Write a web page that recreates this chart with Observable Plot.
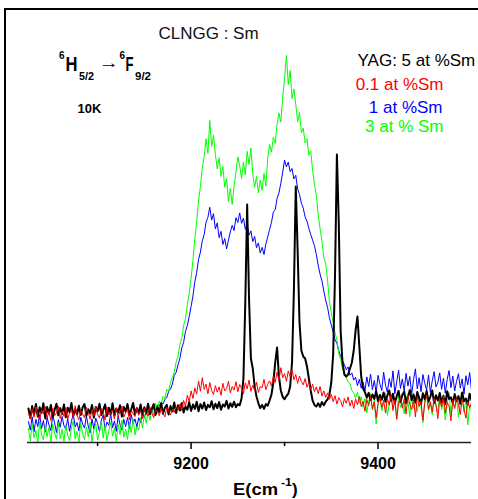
<!DOCTYPE html>
<html>
<head>
<meta charset="utf-8">
<script src="https://cdn.jsdelivr.net/npm/d3@7"></script>
<script src="https://cdn.jsdelivr.net/npm/@observablehq/plot@0.6"></script>
<style>
  html, body { margin: 0; padding: 0; background: #fff; }
  #wrap { position: relative; width: 478px; height: 499px; overflow: hidden; }
  #border { position: absolute; left: 4px; top: 8px; width: 480px; height: 500px;
            border-top: 2px solid #000; border-left: 2px solid #000; pointer-events: none; }
  svg g[aria-label="x-axis tick label"] { font-weight: bold; }
</style>
</head>
<body>
<div id="wrap"><div id="border"></div></div>
<script>
// ---- data (E in cm^-1, intensity in arbitrary units) ----
const energy = [
9026,9028,9030,9032,9034,9036,9038,9040,9042,9044,
9046,9048,9050,9052,9054,9056,9058,9060,9062,9064,
9066,9068,9070,9072,9074,9076,9078,9080,9082,9084,
9086,9088,9090,9092,9094,9096,9098,9100,9102,9104,
9106,9108,9110,9112,9114,9116,9118,9120,9122,9124,
9126,9128,9130,9132,9134,9136,9138,9140,9142,9144,
9146,9148,9150,9152,9154,9156,9158,9160,9162,9164,
9166,9168,9170,9172,9174,9176,9178,9180,9182,9184,
9186,9188,9190,9192,9194,9196,9198,9200,9202,9204,
9206,9208,9210,9212,9214,9216,9218,9220,9222,9224,
9226,9228,9230,9232,9234,9236,9238,9240,9242,9244,
9246,9248,9250,9252,9254,9256,9258,9260,9262,9264,
9266,9268,9270,9272,9274,9276,9278,9280,9282,9284,
9286,9288,9290,9292,9294,9296,9298,9300,9302,9304,
9306,9308,9310,9312,9314,9316,9318,9320,9322,9324,
9326,9328,9330,9332,9334,9336,9338,9340,9342,9344,
9346,9348,9350,9352,9354,9356,9358,9360,9362,9364,
9366,9368,9370,9372,9374,9376,9378,9380,9382,9384,
9386,9388,9390,9392,9394,9396,9398,9400,9402,9404,
9406,9408,9410,9412,9414,9416,9418,9420,9422,9424,
9426,9428,9430,9432,9434,9436,9438,9440,9442,9444,
9446,9448,9450,9452,9454,9456,9458,9460,9462,9464,
9466,9468,9470,9472,9474,9476,9478,9480,9482,9484,
9486,9488,9490,9492,9494,9496,9498,9500];

// YAG: 5 at %Sm (black)
const yag5 = [
8.5,6.2,9.1,7.0,9.6,6.5,8.8,7.4,9.8,6.0,
8.9,7.2,9.4,6.4,8.2,9.7,6.8,8.6,7.1,9.5,
6.3,8.7,7.6,9.9,6.6,8.4,7.0,9.2,6.9,8.8,
9.6,6.7,8.3,7.3,9.4,6.2,8.9,7.8,9.7,6.9,
8.1,9.5,6.6,8.7,7.2,9.8,6.8,8.5,7.5,9.3,
6.5,8.9,7.7,9.6,6.9,8.3,9.9,7.0,8.6,7.4,
9.5,6.8,8.8,7.3,9.7,7.1,8.4,9.6,6.9,8.9,
7.6,9.8,7.2,8.7,9.4,7.0,9.1,7.8,10.0,7.4,
9.3,8.0,9.9,7.5,9.0,8.2,10.1,7.9,9.5,8.4,
10.2,7.8,9.6,8.5,10.0,8.1,9.4,8.8,10.3,8.3,
9.7,8.6,10.1,8.2,9.5,9.0,10.4,8.5,9.8,8.9,
10.2,8.8,9.6,9.3,11,16,35,59.5,36,21,
18.5,14,11.5,9.8,8.6,9.4,8.4,9.6,9.2,10.5,
12,15,20,23.75,16.5,13,11.4,10.8,11.6,12.2,
14,20,38,64,48,30,23,21.5,21,19,
16,13,10.5,9.4,9.0,9.8,8.9,10.1,9.3,10.2,
10.8,12,15,22,42,72,55,28,20,17,
16.5,17,18.5,20,23,28,31.5,24,16.5,13.5,
12.6,11.2,12.4,10.6,12.0,10.9,12.8,10.3,11.9,10.7,
12.5,10.2,11.8,13.0,10.4,12.2,9.8,11.6,12.9,10.1,
11.9,12.7,9.9,11.4,13.1,10.6,12.0,10.0,12.6,11.1,
9.7,12.3,10.8,12.9,10.2,11.5,13.0,9.9,11.8,10.5,
12.4,10.0,11.7,9.6,12.8,10.9,11.3,9.8,12.1,10.4,
11.6,9.7,12.5,10.3,11.0,9.5,12.2,10.6];

// 0.1 at %Sm (red)
const sm01 = [
7.5,5.8,8.4,6.3,8.9,6.9,5.6,8.1,7.2,9.0,
6.1,7.8,5.5,8.6,6.7,7.4,9.1,6.0,7.9,6.5,
8.7,5.9,7.3,8.2,6.4,9.2,6.8,5.7,8.0,7.1,
6.2,8.8,7.6,5.8,8.3,6.6,9.0,7.0,6.1,8.5,
7.7,5.6,8.9,6.9,7.4,8.1,5.9,8.6,6.4,7.8,
9.1,6.3,7.5,8.4,5.7,8.0,7.2,6.5,8.8,6.8,
7.9,6.0,8.5,7.1,6.6,8.9,7.4,6.2,8.2,7.6,
6.7,8.6,7.3,6.4,8.8,7.8,6.9,8.3,7.5,9.0,
8.2,9.6,8.0,10.5,9.1,11.8,10.2,12.9,11.0,13.6,
12.1,15.4,12.8,16.2,13.3,14.6,12.2,15.0,13.0,12.0,
14.2,12.6,13.9,11.8,14.8,12.9,13.5,15.3,12.4,14.0,
13.1,15.2,12.7,14.5,13.6,12.2,14.9,13.4,15.6,12.8,
14.3,13.0,15.1,12.5,14.0,13.7,15.8,13.2,14.6,15.4,
14.1,16.5,15.0,17.6,15.5,18.7,16.2,17.2,15.3,17.9,
16.4,18.2,15.7,17.0,14.8,16.6,15.2,14.4,16.0,13.8,
15.1,13.3,14.6,12.7,13.9,12.2,14.0,11.6,12.9,11.3,
12.4,10.8,12.0,10.2,11.7,9.6,11.2,10.5,8.9,11.0,
9.8,11.4,9.1,10.6,8.5,10.9,9.4,11.5,9.0,10.3,
7.8,10.8,9.2,11.6,8.4,10.1,6.2,9.7,11.2,8.8,
10.5,7.4,11.0,9.3,12.1,8.0,10.6,5.8,9.9,11.3,
8.6,10.9,7.1,11.8,9.5,8.2,10.7,6.4,11.5,9.0,
10.4,5.5,9.8,11.9,8.3,10.2,7.6,11.1,9.4,6.0,
10.8,8.9,11.7,7.3,10.0,9.1,5.4,10.6,8.5,11.2,
9.6,7.0,10.9,8.2,6.1,10.3,8.7,9.9];

// 1 at %Sm (blue)
const sm1 = [
5.2,3.1,6.4,2.7,5.8,4.0,7.0,3.5,5.5,2.6,
6.2,4.4,3.0,6.8,4.9,2.5,5.7,3.8,6.5,4.2,
3.3,6.0,2.8,5.3,7.1,3.9,5.0,2.9,6.3,4.6,
3.6,6.7,4.1,2.4,5.9,3.4,6.1,4.8,2.7,5.6,
6.9,3.2,5.1,4.3,7.2,3.7,5.4,2.8,6.6,4.5,
3.1,5.8,4.0,6.3,3.5,7.0,4.7,5.9,3.9,6.2,
5.0,7.3,6.1,8.0,6.6,8.6,7.4,9.0,7.9,9.4,
9.2,10.0,9.6,10.8,11.2,12.8,13.4,14.6,16.8,17.5,
19.4,21.0,23.6,25.0,27.8,29.2,31.5,34.0,36.6,40.2,
42.5,45.8,47.6,50.4,52.0,55.1,56.3,58.8,55.6,57.2,
53.4,54.9,51.2,52.8,49.5,51.0,48.4,50.6,52.7,54.3,
53.0,56.2,55.0,57.4,54.8,56.1,53.3,54.6,51.8,52.9,
50.2,51.5,48.7,49.9,47.4,48.8,47.0,49.6,51.4,53.3,
55.0,57.6,58.2,61.0,62.4,64.8,67.5,70.6,68.9,70.1,
67.7,68.5,65.9,66.8,63.4,62.0,59.8,58.6,56.4,55.3,
53.5,52.0,50.6,49.2,47.0,44.3,42.1,40.4,37.9,35.6,
33.8,31.2,29.4,27.6,25.7,24.8,22.9,21.6,20.4,19.5,
18.2,18.9,16.8,17.4,15.6,16.3,14.2,15.8,13.6,15.1,
12.9,16.4,14.0,17.1,13.2,15.5,12.4,16.8,14.6,13.0,
17.6,14.3,12.6,16.0,13.8,17.9,12.2,15.2,18.1,13.5,
15.9,12.8,17.3,14.1,16.5,12.0,15.7,18.4,13.4,16.2,
12.7,17.0,14.8,13.1,16.9,12.5,15.4,17.7,13.9,15.0,
17.4,13.3,16.1,12.3,15.8,18.0,13.7,16.6,12.9,15.3,
17.2,13.6,15.9,12.1,16.7,14.4,17.5,13.0];

// 3 at % Sm (green)
const sm3 = [
3.5,0.4,4.8,1.2,3.0,0.0,5.2,2.1,0.6,4.1,
1.5,3.8,0.2,4.6,2.4,0.8,5.0,1.0,3.3,0.3,
4.4,1.8,0.5,3.6,5.4,0.9,2.8,0.1,4.9,2.2,
0.7,3.9,1.4,5.1,0.2,3.2,4.7,0.6,2.6,5.3,
1.1,4.3,0.4,2.9,5.0,1.6,3.7,0.3,4.5,2.0,
5.6,1.3,3.4,0.8,4.8,2.5,5.9,1.9,4.0,3.1,
6.2,3.6,7.0,4.8,7.9,5.5,8.6,6.8,9.8,8.0,
10.4,9.2,11.6,11.0,13.3,12.8,15.0,16.2,17.6,20.1,
21.5,24.6,26.0,29.2,31.0,34.5,37.3,41.0,45.6,51.0,
55.2,60.4,64.0,68.8,71.5,75.9,72.3,80.5,74.0,76.8,
72.0,68.4,71.2,66.5,69.0,63.8,66.0,60.2,63.5,59.5,
64.2,67.6,71.4,69.2,66.0,70.1,66.9,72.8,69.5,73.6,
67.2,63.8,66.5,62.4,65.6,63.0,67.3,64.1,71.0,74.5,
72.6,76.3,74.8,79.5,82.4,80.1,86.2,91.0,96.8,89.5,
93.0,86.0,88.4,84.6,80.2,82.5,77.4,78.6,74.9,76.0,
71.8,72.9,68.0,64.6,61.8,57.0,53.4,50.5,46.2,44.8,
40.6,35.2,32.4,30.0,27.5,25.6,22.3,20.8,18.4,17.5,
16.1,15.2,14.8,13.0,12.4,11.1,12.6,9.8,11.5,8.9,
11.0,7.4,10.3,12.2,8.1,10.8,4.6,9.5,11.7,7.9,
10.1,12.4,6.8,9.6,11.3,8.4,10.9,5.9,12.0,8.8,
9.9,7.2,11.6,10.2,6.5,12.3,8.6,10.5,7.7,11.1,
9.0,4.9,10.7,12.1,8.0,10.0,6.9,11.4,9.3,7.5,
11.8,8.3,10.4,5.6,9.7,12.5,7.0,10.1,8.7,11.2,
6.3,9.8,11.9,7.6,10.6,4.4,9.2,8.0];

const seriesNames = ["YAG: 5 at %Sm", "0.1 at %Sm", "1 at %Sm", "3 at % Sm"];
const seriesColors = ["#000000", "#ff0000", "#0000ff", "#00ff00"];
const majorTicks = [9200, 9400];
const minorTicks = [9100, 9300];
const titleText = "CLNGG : Sm";
const tempText = "10K";
const transitionParts = ["6", "H", "5/2", "\u2192", "6", "F", "9/2"];
const axisLabelParts = ["E(cm", "-1", ")"];

const rows = arr => energy.map((e, i) => ({e, v: arr[i]})).filter(d => d.v != null);

const lineOf = (arr, color, w) => Plot.line(rows(arr), {x: "e", y: "v", stroke: color, strokeWidth: w, clip: true});

const txt = (s, o) => Plot.text([s], {text: d => d, frameAnchor: "top-left", ...o});

const chart = Plot.plot({
  width: 478, height: 499,
  marginLeft: 27, marginRight: 7, marginTop: 42, marginBottom: 57,
  style: {fontFamily: "'Liberation Sans', Arial, sans-serif", background: "transparent", color: "#000", overflow: "visible"},
  x: {domain: [9025, 9500], label: null},
  y: {domain: [0, 100], axis: null},
  marks: [
    lineOf(sm1, seriesColors[2], 1),
    lineOf(sm3, seriesColors[3], 1),
    lineOf(yag5, seriesColors[0], 2),
    lineOf(sm01, seriesColors[1], 1),
    Plot.ruleY([0], {stroke: "#222", strokeWidth: 1.5}),
    Plot.axisX({ticks: minorTicks, tickSize: 4, tickFormat: () => "", strokeWidth: 1.5, label: null}),
    Plot.axisX({ticks: majorTicks, tickSize: 7, tickPadding: 8, tickFormat: d => String(d), fontSize: 16, fontWeight: "bold", strokeWidth: 1.5, label: null}),
    txt(titleText, {dx: 131, dy: -16, fontSize: 17, textAnchor: "start", fill: "#111"}),
    txt(seriesNames[0], {dx: 330, dy: 11.5, fontSize: 17, textAnchor: "start", fill: seriesColors[0]}),
    txt(seriesNames[1], {dx: 416, dy: 35.5, fontSize: 17, textAnchor: "end", fill: seriesColors[1]}),
    txt(seriesNames[2], {dx: 415, dy: 58, fontSize: 17, textAnchor: "end", fill: seriesColors[2]}),
    txt(seriesNames[3], {dx: 416, dy: 77.5, fontSize: 17, textAnchor: "end", fill: seriesColors[3]}),
    txt(tempText, {dx: 50, dy: 61.5, fontSize: 13, fontWeight: "bold", textAnchor: "start", fill: "#000"})
  ]
});

document.getElementById("wrap").prepend(chart);
chart.style.position = "absolute";
chart.style.left = "0px";
chart.style.top = "0px";

// multi-part labels with super/subscripts
const svg = d3.select(chart);
const piece = (x, y, s, size, len) => {
  const t = svg.append("text")
    .attr("x", x).attr("y", y)
    .attr("text-anchor", "start")
    .attr("font-size", size).attr("font-weight", "bold")
    .attr("font-family", "'Liberation Sans', Arial, sans-serif")
    .attr("fill", "#000").text(s);
  if (len) t.attr("textLength", len).attr("lengthAdjust", "spacingAndGlyphs");
  return t;
};
piece(59, 58.5, transitionParts[0], 10);
piece(65.5, 71, transitionParts[1], 20, 12);
piece(79, 79.5, transitionParts[2], 11, 15);
piece(99, 68, transitionParts[3], 16, 20);
piece(119.5, 58.5, transitionParts[4], 10);
piece(125.5, 71, transitionParts[5], 20, 8);
piece(135, 79.5, transitionParts[6], 11, 16);

piece(233, 495, axisLabelParts[0], 17, 45);
piece(281, 486, axisLabelParts[1], 11, 11);
piece(292, 495, axisLabelParts[2], 17);
</script>
</body>
</html>
